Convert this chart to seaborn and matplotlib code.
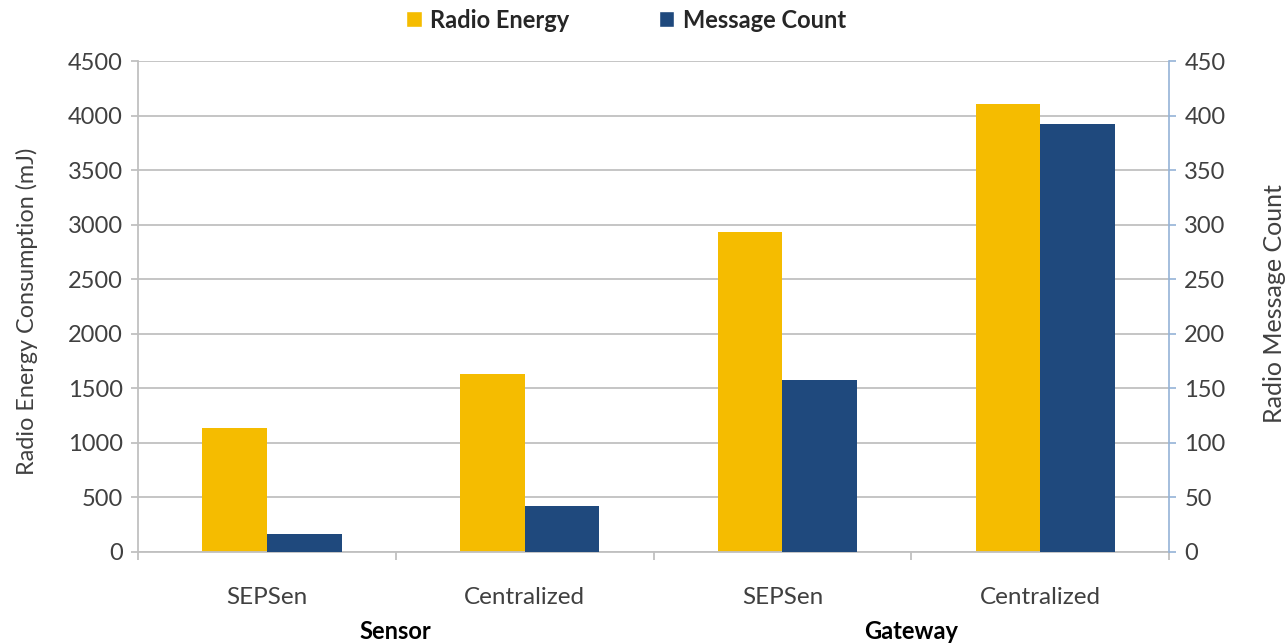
import matplotlib
matplotlib.use("Agg")
import matplotlib.pyplot as plt
from matplotlib.patches import Patch
import pandas as pd
import seaborn as sns

# Data
groups = ["Sensor", "Sensor", "Gateway", "Gateway"]
configs = ["SEPSen", "Centralized", "SEPSen", "Centralized"]
radio_energy = [1140, 1632, 2937, 4104]      # mJ, left axis
message_count = [16.5, 42.5, 157.5, 392.5]   # messages, right axis
group_names = ["Sensor", "Gateway"]

YELLOW = "#F5BC00"
BLUE = "#1F497D"
GRID = "#C0C0C0"
TEXT = "#404040"
RIGHT_AXIS = "#95B3D7"

sns.set_theme(style="white")
plt.rcParams["font.family"] = ["Lato", "DejaVu Sans"]

keys = [f"{g} {c}" for g, c in zip(groups, configs)]
df = pd.DataFrame({"key": keys, "energy": radio_energy, "count": message_count})

fig = plt.figure(figsize=(12.85, 6.43), dpi=100)
ax1 = fig.add_axes([138 / 1285, 1 - 552 / 643, (1169 - 138) / 1285, (552 - 61) / 643])

sns.barplot(data=df, x="key", y="energy", order=keys, color=YELLOW, saturation=1,
            width=0.25, linewidth=0, ax=ax1)
for p in ax1.patches:
    c = p.get_x() + p.get_width() / 2
    p.set_x(c - p.get_width())

ax2 = ax1.twinx()
sns.barplot(data=df, x="key", y="count", order=keys, color=BLUE, saturation=1,
            width=0.29, linewidth=0, ax=ax2)
for p in ax2.patches:
    c = p.get_x() + p.get_width() / 2
    p.set_x(c)

n = len(keys)
for ax in (ax1, ax2):
    ax.set_xlim(-0.5, n - 0.5)
    ax.set_xlabel("")

ax1.set_ylim(0, 4500)
ax1.set_yticks(range(0, 4501, 500))
ax2.set_ylim(0, 450)
ax2.set_yticks(range(0, 451, 50))

# Gridlines and axis styling
ax1.set_axisbelow(True)
ax1.yaxis.grid(True, color=GRID, linewidth=1.3)
ax1.xaxis.grid(False)
ax2.grid(False)

for ax in (ax1, ax2):
    for s in ax.spines.values():
        s.set_visible(False)
ax1.spines["left"].set_visible(True)
ax1.spines["left"].set_color(GRID)
ax1.spines["left"].set_linewidth(1.3)
ax1.spines["bottom"].set_visible(True)
ax1.spines["bottom"].set_color(GRID)
ax1.spines["bottom"].set_linewidth(1.3)
ax2.spines["right"].set_visible(True)
ax2.spines["right"].set_color(RIGHT_AXIS)
ax2.spines["right"].set_linewidth(1.2)

ax1.tick_params(axis="y", which="major", left=True, length=5, width=1.3, color=GRID,
                labelsize=17, labelcolor=TEXT, pad=6)
ax2.tick_params(axis="y", which="major", right=True, length=5, width=1.2, color=RIGHT_AXIS,
                labelsize=17, labelcolor=TEXT, pad=6)

# Category labels at bar-group centres, tick marks at category boundaries
ax1.set_xticks(range(n))
ax1.set_xticklabels(configs)
ax1.set_xticks([i - 0.5 for i in range(n + 1)], minor=True)
ax1.tick_params(axis="x", which="major", bottom=False, length=0, labelsize=17.5,
                labelcolor=TEXT, pad=25)
ax1.tick_params(axis="x", which="minor", bottom=True, length=6, width=1.3, color=GRID)
ax2.tick_params(axis="x", which="both", bottom=False, top=False, labelbottom=False)

# Group labels below the category labels
for gi, name in enumerate(group_names):
    ax1.text(2 * gi + 0.5, -0.161, name, transform=ax1.get_xaxis_transform(),
             ha="center", va="center", fontsize=17, fontweight="bold", color="black")

ax1.set_ylabel("Radio Energy Consumption (mJ)", fontsize=16.8, color=TEXT)
ax1.yaxis.set_label_coords(-0.097, 0.49)
ax2.set_ylabel("Radio Message Count", fontsize=18, color=TEXT, rotation=90)
ax2.yaxis.set_label_coords(1.0912, 0.505)

handles = [Patch(facecolor=YELLOW, label="Radio Energy"),
           Patch(facecolor=BLUE, label="Message Count")]
fig.legend(handles=handles, loc="center", bbox_to_anchor=(626 / 1285, 1 - 20 / 643), ncol=2,
           frameon=False, prop={"size": 17, "weight": "bold"}, handlelength=0.65,
           handleheight=0.65, handletextpad=0.35, columnspacing=3.8)

fig.savefig("out.png", dpi=100, facecolor="white")
